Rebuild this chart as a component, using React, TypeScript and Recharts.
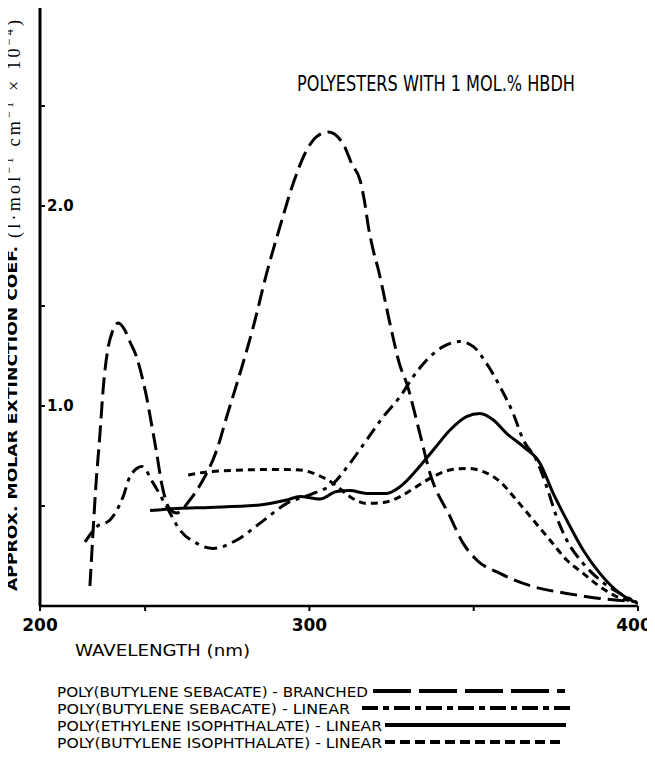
import React from 'react';
import { LineChart, Line, XAxis, YAxis, Legend, Label } from 'recharts';

// wavelength (nm) / approx. molar extinction coef. (x 10^-4)
const branchedNm = [233.2, 234.0, 235.0, 236.2, 237.3, 238.6, 240.0, 241.8, 243.8, 245.4, 247.3, 249.0, 250.5, 251.5, 253.5, 255.0, 257.3, 259.6, 263.6, 267.6, 271.8, 274.8, 278.9, 282.9, 287.0, 291.0, 295.1, 299.2, 302.2, 305.7, 310.3, 312.9, 315.4, 316.9, 317.9, 319.4, 321.0, 324.5, 327.6, 329.6, 333.6, 336.7, 342.8, 346.8, 350.9, 358.0, 368.1, 378.3, 388.4, 398.6];
const branchedVal = [0.1, 0.33, 0.6, 0.85, 1.1, 1.28, 1.37, 1.415, 1.38, 1.32, 1.25, 1.15, 1.04, 0.95, 0.765, 0.615, 0.49, 0.465, 0.53, 0.63, 0.78, 0.945, 1.165, 1.395, 1.665, 1.895, 2.115, 2.28, 2.347, 2.37, 2.31, 2.21, 2.13, 2.01, 1.9, 1.78, 1.68, 1.413, 1.2, 1.113, 0.863, 0.663, 0.447, 0.313, 0.23, 0.163, 0.097, 0.063, 0.038, 0.022];

const linearSebNm = [231.7, 235.3, 239.3, 243.3, 245.4, 249.0, 252.5, 256.5, 260.6, 265.7, 270.7, 277.9, 284.9, 293.1, 301.2, 307.3, 312.3, 317.4, 322.5, 327.6, 331.6, 335.7, 340.7, 345.8, 349.9, 353.9, 358.0, 362.0, 365.1, 369.1, 372.2, 375.2, 378.3, 383.3, 388.4, 394.5, 399.6];
const linearSebVal = [0.32, 0.397, 0.43, 0.547, 0.647, 0.697, 0.613, 0.497, 0.38, 0.313, 0.288, 0.33, 0.413, 0.513, 0.563, 0.613, 0.713, 0.83, 0.947, 1.047, 1.147, 1.23, 1.297, 1.322, 1.297, 1.213, 1.097, 0.963, 0.83, 0.73, 0.597, 0.447, 0.33, 0.213, 0.13, 0.063, 0.02];

const peiNm = [251.5, 259.6, 269.7, 284.9, 293.1, 297.1, 303.2, 308.3, 312.3, 317.4, 323.5, 327.6, 332.6, 337.7, 342.8, 347.8, 351.9, 356.0, 360.0, 365.1, 370.2, 374.2, 378.3, 383.3, 388.4, 394.5, 400.0];
const peiVal = [0.477, 0.488, 0.493, 0.505, 0.53, 0.547, 0.535, 0.572, 0.577, 0.563, 0.563, 0.597, 0.68, 0.78, 0.88, 0.947, 0.963, 0.93, 0.863, 0.797, 0.713, 0.563, 0.43, 0.28, 0.163, 0.063, 0.013];

const pbiNm = [263.1, 269.7, 279.9, 290.0, 297.1, 303.2, 307.3, 312.3, 317.4, 322.5, 327.6, 332.6, 337.7, 342.8, 347.8, 352.9, 358.0, 363.0, 368.1, 373.2, 378.3, 383.3, 388.4, 393.5, 399.6];
const pbiVal = [0.655, 0.672, 0.68, 0.683, 0.68, 0.65, 0.613, 0.547, 0.513, 0.517, 0.547, 0.597, 0.647, 0.68, 0.688, 0.672, 0.622, 0.53, 0.43, 0.33, 0.23, 0.163, 0.097, 0.047, 0.02];

const xTicks = [218, 250, 300, 350, 400];
const xTickLabels = ['200', '', '300', '', '400'];
const yTicks = [0.5, 1, 1.5, 2, 2.5];

const toPoints = (nm: number[], val: number[]) => nm.map((w, i) => ({ nm: w, v: val[i] }));

const series = [
  { key: 'branched', name: 'POLY(BUTYLENE SEBACATE) - BRANCHED', data: toPoints(branchedNm, branchedVal), dash: '17 7', legendDash: '38 8', textLen: 311, x1: 373, x2: 565 },
  { key: 'linSeb', name: 'POLY(BUTYLENE SEBACATE) - LINEAR', data: toPoints(linearSebNm, linearSebVal), dash: '13 6 4 6', legendDash: '16 5 6 5', textLen: 293, x1: 362, x2: 570 },
  { key: 'pei', name: 'POLY(ETHYLENE ISOPHTHALATE) - LINEAR', data: toPoints(peiNm, peiVal), dash: undefined, legendDash: undefined, textLen: 325, x1: 385, x2: 566 },
  { key: 'pbi', name: 'POLY(BUTYLENE ISOPHTHALATE) - LINEAR', data: toPoints(pbiNm, pbiVal), dash: '7 5', legendDash: '10 5', textLen: 325, x1: 385, x2: 562 },
];

const narrow = "'Liberation Sans Narrow', 'DejaVu Sans Condensed', 'Roboto', sans-serif";
const sans = "'DejaVu Sans', sans-serif";

const renderLegend = () => (
  <svg width={655} height={88} style={{ display: 'block' }}>
    {series.map((s, i) => {
      const cy = 11 + i * 17;
      return (
        <g key={s.key}>
          <text x={57} y={cy + 5.5} fontSize={14.5} fontFamily={narrow} textLength={s.textLen} lengthAdjust="spacingAndGlyphs" fill="#000">
            {s.name}
          </text>
          <line x1={s.x1} x2={s.x2} y1={cy} y2={cy} stroke="#000" strokeWidth={4} strokeDasharray={s.legendDash} />
        </g>
      );
    })}
  </svg>
);

const renderYLabel = () => (
  <g>
    <text transform="translate(17,591) rotate(-90)" fontFamily={sans} fontWeight="bold" fontSize={14} textLength={345} lengthAdjust="spacingAndGlyphs" fill="#000">
      APPROX. MOLAR EXTINCTION COEF.
    </text>
    <text transform="translate(20,238) rotate(-90)" fontFamily="'Liberation Serif', serif" fontSize={18} textLength={218} lengthAdjust="spacing" fill="#000">
      (l·mol<tspan dy={-7} fontSize={12}>−1</tspan>
      <tspan dy={7}> cm</tspan><tspan dy={-7} fontSize={12}>−1</tspan>
      <tspan dy={7}> × 10</tspan><tspan dy={-7} fontSize={12}>−4</tspan>
      <tspan dy={7}>)</tspan>
    </text>
    <text x={297} y={91} fontFamily={narrow} fontSize={21} textLength={278} lengthAdjust="spacingAndGlyphs" fill="#000">
      POLYESTERS WITH 1 MOL.% HBDH
    </text>
  </g>
);

const renderXLabel = () => (
  <text x={75} y={656} fontFamily={sans} fontSize={16} textLength={175} lengthAdjust="spacingAndGlyphs" fill="#000">
    WAVELENGTH (nm)
  </text>
);

const XTick = (props: any) => {
  const { x, y, payload, index } = props;
  const label = xTickLabels[xTicks.indexOf(payload.value)] ?? '';
  const dx = index === xTicks.length - 1 ? -4 : 0;
  return (
    <text x={x + dx} y={y + 18} textAnchor="middle" fontFamily={sans} fontWeight="bold" fontSize={17} fill="#000">
      {label}
    </text>
  );
};

export default function App() {
  return (
    <div style={{ margin: '-8px 0 0 -8px', width: 655, height: 768, background: '#fff' }}>
      <LineChart width={655} height={768} margin={{ top: 6, right: 17, bottom: 132, left: 40 }}>
        <XAxis
          type="number"
          dataKey="nm"
          domain={[218, 400]}
          ticks={xTicks}
          allowDataOverflow
          tickSize={5}
          tickMargin={2}
          height={30}
          axisLine={{ stroke: '#000', strokeWidth: 2.5 }}
          tickLine={{ stroke: '#000', strokeWidth: 2 }}
          tick={<XTick />}
        >
          <Label content={renderXLabel} />
        </XAxis>
        <YAxis
          type="number"
          domain={[0, 3]}
          ticks={yTicks}
          mirror
          tickSize={5}
          tickMargin={2}
          tickFormatter={(v: number) => (v % 1 === 0 ? v.toFixed(1) : '')}
          axisLine={{ stroke: '#000', strokeWidth: 3 }}
          tickLine={{ stroke: '#000', strokeWidth: 2 }}
          tick={{ fill: '#000', fontSize: 15, fontWeight: 'bold', fontFamily: sans }}
        >
          <Label content={renderYLabel} />
        </YAxis>
        <Legend
          layout="vertical"
          verticalAlign="middle"
          align="center"
          content={renderLegend}
          wrapperStyle={{ top: 680, left: 0, width: 655 }}
        />
        {series.map((s) => (
          <Line
            key={s.key}
            name={s.name}
            data={s.data}
            dataKey="v"
            type="monotone"
            stroke="#000"
            strokeWidth={3}
            strokeDasharray={s.dash}
            dot={false}
            activeDot={false}
            isAnimationActive={false}
          />
        ))}
      </LineChart>
    </div>
  );
}
